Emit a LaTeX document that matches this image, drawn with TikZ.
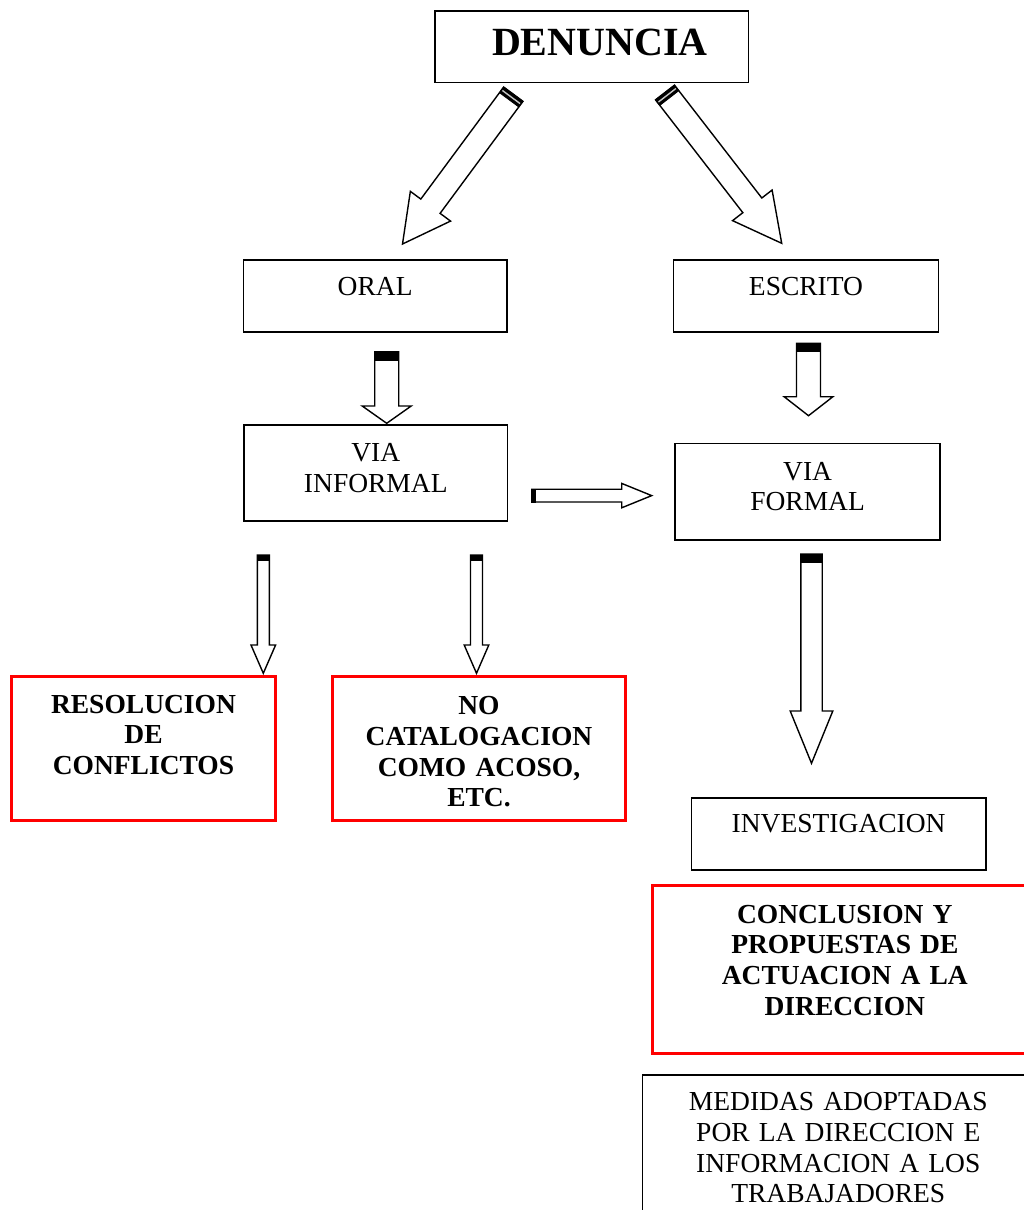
\documentclass[tikz,border=0pt]{standalone}
\usepackage{fontspec}
\setmainfont{Liberation Serif}
\usetikzlibrary{calc}
\definecolor{boxred}{RGB}{255,0,0}
\newcommand{\ntxt}{\fontsize{27.5}{30.7}\selectfont\spaceskip=0.2em\relax}
\newcommand{\btxt}{\fontsize{27.5}{30.7}\selectfont\bfseries\spaceskip=0.18em\relax}
% #1 tail, #2 tip, #3 half shaft, #4 half head, #5 head length, #6 cap length
\newcommand{\blkarrow}[6]{%
  \coordinate (ba-H) at ($(#2)!#5!(#1)$);
  \coordinate (ba-S) at ($(#1)!#6!(#2)$);
  \coordinate (ba-M) at ($(#1)!0.5!(ba-S)$);
  \draw[blockarrow] ($(#1)!#3!90:(#2)$) -- ($(ba-H)!#3!-90:(#1)$) -- ($(ba-H)!#4!-90:(#1)$) -- (#2)
     -- ($(ba-H)!#4!90:(#1)$) -- ($(ba-H)!#3!90:(#1)$) -- ($(#1)!#3!-90:(#2)$) -- cycle;
  \filldraw[arrowcap] ($(#1)!#3!90:(#2)$) -- ($(ba-S)!#3!-90:(#1)$) -- ($(ba-S)!#3!90:(#1)$) -- ($(#1)!#3!-90:(#2)$) -- cycle;
}
\tikzset{
  box/.style={draw=black, line width=1.6pt, inner sep=0pt, align=center, anchor=north west, font=\ntxt},
  redbox/.style={box, draw=boxred, line width=3pt, font=\btxt},
  blockarrow/.style={draw=black, fill=white, line width=1.4pt, line join=miter},
  arrowcap/.style={fill=black, draw=black, line width=0.8pt},
  capline/.style={draw=white!55!gray, line width=1.4pt}
}
\begin{document}
\begin{tikzpicture}[x=1pt,y=-1pt]
\useasboundingbox (0,0) rectangle (1024,1210);

% boxes
\node[box, text width=313.4pt, text height=45pt, text depth=26.7pt,
      font=\fontsize{40}{44}\selectfont\bfseries] (denuncia) at (434.3,10) {\hspace*{16pt}DENUNCIA};
\node[box, text width=263.3pt, text height=35.7pt, text depth=36pt] (oral) at (242.7,259.3) {ORAL};
\node[box, text width=265pt, text height=35.7pt, text depth=36pt] (escrito) at (672.7,259.3) {ESCRITO};
\node[box, text width=263.4pt, text height=36.7pt, text depth=59.3pt] (viainf) at (243.3,424) {VIA\\INFORMAL};
\node[box, text width=265pt, text height=36.6pt, text depth=60pt] (viaform) at (674.3,442.7) {VIA\\FORMAL};
\node[redbox, text width=264pt, text height=36.7pt, text depth=106.8pt] (resol) at (10,675) {RESOLUCION\\DE\\CONFLICTOS};
\node[redbox, text width=293pt, text height=38.3pt, text depth=105.2pt] (nocat) at (331,675) {NO\\CATALOGACION\\COMO ACOSO,\\ETC.};
\node[box, text width=294.3pt, text height=34.4pt, text depth=37.6pt] (invest) at (690.7,797.3) {INVESTIGACION\hspace*{7pt}};
\node[redbox, text width=385.3pt, text height=37.4pt, text depth=130pt] (concl) at (650.7,884.3) {CONCLUSION Y\\PROPUESTAS DE\\ACTUACION A LA\\DIRECCION};
\node[box, text width=391.6pt, text height=35.7pt, text depth=124.3pt] (medidas) at (641.7,1074.3) {MEDIDAS ADOPTADAS\\POR LA DIRECCION E\\INFORMACION A LOS\\TRABAJADORES};

% arrow end points
\coordinate (a1t) at (513.3,94.2);  \coordinate (a1h) at (402.5,244);
\coordinate (a2t) at (665,92.5);    \coordinate (a2h) at (781.7,243.3);
\coordinate (a3t) at (386.7,351.7); \coordinate (a3h) at (386.7,423.3);
\coordinate (a4t) at (808.5,343.3); \coordinate (a4h) at (808.5,415.7);
\coordinate (a5t) at (531.7,495.6); \coordinate (a5h) at (651.7,495.6);
\coordinate (a6t) at (263.3,555);   \coordinate (a6h) at (263.3,673.3);
\coordinate (a7t) at (476.5,555);   \coordinate (a7h) at (476.5,673.3);
\coordinate (a8t) at (811.5,554);   \coordinate (a8h) at (811.5,763.3);

% block arrows
\blkarrow{a1t}{a1h}{12pt}{25pt}{47pt}{7pt}
\draw[capline] ($(ba-M)!11pt!90:(a1h)$) -- ($(ba-M)!11pt!-90:(a1h)$);
\blkarrow{a2t}{a2h}{12pt}{25pt}{48pt}{7pt}
\draw[capline] ($(ba-M)!11pt!90:(a2h)$) -- ($(ba-M)!11pt!-90:(a2h)$);
\blkarrow{a3t}{a3h}{12pt}{24.5pt}{17.3pt}{8.3pt}
\blkarrow{a4t}{a4h}{12pt}{24.4pt}{19pt}{8.4pt}
\blkarrow{a5t}{a5h}{6.4pt}{12.2pt}{30pt}{4pt}
\blkarrow{a6t}{a6h}{6pt}{12.3pt}{28.3pt}{5pt}
\blkarrow{a7t}{a7h}{6pt}{12.3pt}{28.3pt}{5pt}
\blkarrow{a8t}{a8h}{10.7pt}{21.3pt}{52.3pt}{8.7pt}
\end{tikzpicture}
\end{document}
